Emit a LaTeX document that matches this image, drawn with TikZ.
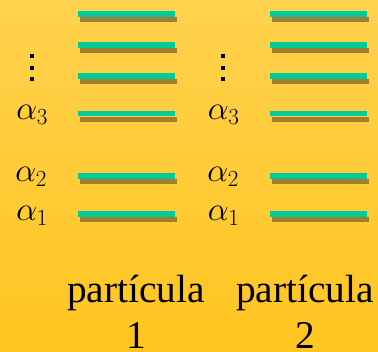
\documentclass[tikz,border=0pt]{standalone}
\usepackage{fontspec}
\setmainfont{Liberation Serif}
\usetikzlibrary{shadows}
\definecolor{bgtop}{RGB}{255,210,78}
\definecolor{bgbot}{RGB}{255,197,32}
\definecolor{levelteal}{RGB}{0,204,153}
\definecolor{levelshadow}{RGB}{160,128,48}
\tikzset{
  level/.style={rectangle, inner sep=0pt, minimum width=72.75pt, minimum height=3.9pt,
    fill=levelteal, anchor=west,
    drop shadow={shadow xshift=1.1pt, shadow yshift=-4.2pt, fill=levelshadow, opacity=1}},
  alab/.style={anchor=west, inner sep=0pt, font=\fontsize{27}{30}\selectfont},
  plab/.style={anchor=base, inner sep=0pt, align=center, font=\fontsize{29.5}{34}\selectfont},
  vdot/.style={fill=black, inner sep=0pt, minimum size=3pt, rectangle}
}
\begin{document}
\begin{tikzpicture}[x=0.75pt,y=-0.75pt]
\shade[top color=bgtop, bottom color=bgbot] (0,0) rectangle (378,351);
\useasboundingbox (0,0) rectangle (378,351);
% left column levels
\node[level] (l6) at (78,14) {};
\node[level] (l5) at (78,45) {};
\node[level] (l4) at (78,76) {};
\node[level] (l3) at (78,113.7) {};
\node[level] (l2) at (78,176) {};
\node[level] (l1) at (78,214) {};
% right column levels
\node[level] (r6) at (270,14) {};
\node[level] (r5) at (270,45) {};
\node[level] (r4) at (270,76) {};
\node[level] (r3) at (270,113.7) {};
\node[level] (r2) at (270,176) {};
\node[level] (r1) at (270,214) {};
% labels
\node[alab] (la3) at (16,115) {$\alpha_3$};
\node[alab] (la2) at (15,177) {$\alpha_2$};
\node[alab] (la1) at (16,216) {$\alpha_1$};
\node[alab] (ra3) at (207.5,115) {$\alpha_3$};
\node[alab] (ra2) at (207,177) {$\alpha_2$};
\node[alab] (ra1) at (207.5,216) {$\alpha_1$};
% vertical dots
\foreach \yy [count=\i] in {56,67.5,78.5}{
  \node[vdot] (ld\i) at (32,\yy) {};
  \node[vdot] (rd\i) at (223,\yy) {};
}
% particle labels
\node[plab] (p1) at (136,348) {partícula\\1};
\node[plab] (p2) at (305,348) {partícula\\2};
\end{tikzpicture}
\end{document}
